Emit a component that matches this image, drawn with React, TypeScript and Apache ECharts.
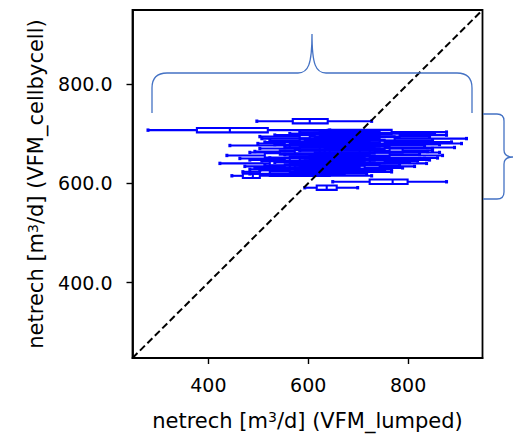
import React, { useEffect, useRef } from "react";
import * as echarts from "echarts";

// ---- data ----
const rowY = [725, 707, 703, 700, 697, 694, 690, 686, 683, 680, 678, 676, 672, 670, 666, 664, 662, 658, 656, 651, 650, 647, 645, 642, 640, 636, 634, 631, 628, 626, 623, 619, 615, 603, 591];
const rowMin = [497, 279, 583, 563, 533, 503, 507, 523, 513, 499, 533, 443, 553, 503, 583, 493, 483, 553, 437, 523, 463, 483, 507, 533, 423, 513, 473, 493, 483, 503, 469, 483, 447, 649, 593];
const rowQ1 = [569, 377, 639, 623, 613, 583, 603, 583, 593, 553, 603, 563, 623, 583, 633, 573, 543, 613, 513, 603, 563, 553, 583, 593, 523, 563, 553, 573, 583, 563, 503, 523, 469, 723, 617];
const rowMed = [603, 443, 703, 683, 693, 653, 683, 643, 663, 633, 673, 643, 683, 673, 703, 643, 623, 683, 603, 663, 643, 623, 663, 653, 603, 623, 643, 633, 643, 613, 583, 583, 489, 769, 637];
const rowQ3 = [639, 519, 767, 743, 783, 733, 773, 743, 753, 723, 743, 733, 753, 763, 789, 733, 723, 763, 703, 723, 733, 713, 753, 723, 693, 683, 743, 713, 703, 683, 673, 643, 503, 799, 657];
const rowMax = [727, 643, 877, 853, 877, 843, 917, 849, 887, 907, 863, 833, 893, 849, 849, 839, 863, 823, 869, 859, 833, 843, 819, 803, 837, 783, 813, 789, 767, 753, 767, 717, 727, 877, 699];

const xTicks = [400, 600, 800];
const yTicks = [400, 600, 800];
const axisMin = 248;
const axisMax = 949;
const diagonal = [
  [axisMin, axisMin],
  [axisMax, axisMax],
];

const xName = "netrech [m{sup|3}/d] (VFM_lumped)";
const yName = "netrech [m{sup|3}/d] (VFM_cellbycell)";

// ---- annotation braces (figure pixel coordinates) ----
const TOP_BRACE =
  "M152,113 L152,88 Q152,73 167,73 L298,73 C308,73 312,65 312,34 C312,65 316,73 326,73 L457,73 Q472,73 472,88 L472,113";
const RIGHT_BRACE =
  "M483,114 L497,114 Q504,114 504,121 L504,150 C504,155 507,157 513,157 C507,157 504,159 504,164 L504,192 Q504,199 497,199 L483,199";

let registered = false;
function registerShapes() {
  if (registered) return;
  registered = true;
  echarts.graphic.registerShape("braceTop", echarts.graphic.extendPath(TOP_BRACE, {}));
  echarts.graphic.registerShape("braceRight", echarts.graphic.extendPath(RIGHT_BRACE, {}));
}

const FONT = "DejaVu Sans";
const BLUE = "#0000ff";
const TITLE_SIZE = 21;

const nameStyle = {
  fontFamily: FONT,
  fontSize: TITLE_SIZE,
  color: "#000",
  rich: {
    sup: { fontFamily: FONT, fontSize: 14, color: "#000", verticalAlign: "top" },
  },
};

export default function App() {
  const ref = useRef<HTMLDivElement>(null);

  useEffect(() => {
    if (!ref.current) return;
    registerShapes();
    const chart = echarts.init(ref.current, null, { renderer: "svg" });

    const rows = rowY.map((y, i) => [y, rowMin[i], rowQ1[i], rowMed[i], rowQ3[i], rowMax[i]]);

    const braceStyle = { stroke: "#4472c4", lineWidth: 1.3, fill: "none" };

    chart.setOption({
      animation: false,
      backgroundColor: "#ffffff",
      grid: {
        left: 132.5,
        top: 10,
        width: 350,
        height: 350,
        show: true,
        borderColor: "#000",
        borderWidth: 1.8,
        backgroundColor: "transparent",
      },
      xAxis: {
        type: "value",
        min: axisMin,
        max: axisMax,
        name: xName,
        nameLocation: "middle",
        nameGap: 52,
        nameTextStyle: nameStyle,
        axisLine: { show: true, lineStyle: { color: "#000", width: 1.8 } },
        axisTick: { show: true, length: 6, lineStyle: { color: "#000", width: 1.4 }, customValues: xTicks },
        axisLabel: { customValues: xTicks, margin: 17, fontFamily: FONT, fontSize: 19, color: "#000" },
        splitLine: { show: false },
      },
      yAxis: {
        type: "value",
        min: axisMin,
        max: axisMax,
        name: yName,
        nameLocation: "middle",
        nameRotate: 90,
        nameGap: 86,
        nameTextStyle: nameStyle,
        axisLine: { show: true, lineStyle: { color: "#000", width: 1.8 } },
        axisTick: { show: true, length: 6, lineStyle: { color: "#000", width: 1.4 }, customValues: yTicks },
        axisLabel: {
          customValues: yTicks,
          margin: 20,
          fontFamily: FONT,
          fontSize: 19,
          color: "#000",
          formatter: (v: number) => Number(v).toFixed(1),
        },
        splitLine: { show: false },
      },
      graphic: [
        { type: "braceTop", x: 0, y: 0, silent: true, style: braceStyle, z: 100 },
        { type: "braceRight", x: 0, y: 0, silent: true, style: braceStyle, z: 100 },
      ],
      series: [
        {
          type: "custom",
          data: rows,
          encode: { x: [1, 2, 3, 4, 5], y: 0 },
          z: 2,
          renderItem: (params: any, api: any) => {
            const y = api.value(0);
            const p = [1, 2, 3, 4, 5].map((i) => api.coord([api.value(i), y]));
            const cy = p[0][1];
            const h = 4.4;
            const ls = { stroke: BLUE, lineWidth: 2.1, fill: "none" };
            const cap = { stroke: BLUE, lineWidth: 3, fill: "none" };
            return {
              type: "group",
              children: [
                { type: "line", shape: { x1: p[0][0], y1: cy, x2: p[1][0], y2: cy }, style: ls },
                { type: "line", shape: { x1: p[3][0], y1: cy, x2: p[4][0], y2: cy }, style: ls },
                { type: "line", shape: { x1: p[0][0], y1: cy - 1.7, x2: p[0][0], y2: cy + 1.7 }, style: cap },
                { type: "line", shape: { x1: p[4][0], y1: cy - 1.7, x2: p[4][0], y2: cy + 1.7 }, style: cap },
                {
                  type: "rect",
                  shape: { x: p[1][0], y: cy - h / 2, width: p[3][0] - p[1][0], height: h },
                  style: ls,
                },
                { type: "line", shape: { x1: p[2][0], y1: cy - h / 2, x2: p[2][0], y2: cy + h / 2 }, style: ls },
              ],
            };
          },
        },
        {
          type: "line",
          data: diagonal,
          symbol: "none",
          z: 5,
          lineStyle: { color: "#000", width: 2, type: [7, 3.5] },
        },
      ],
    });

    return () => chart.dispose();
  }, []);

  return (
    <div
      ref={ref}
      style={{ position: "fixed", left: 0, top: 0, width: 513, height: 436 }}
    />
  );
}
